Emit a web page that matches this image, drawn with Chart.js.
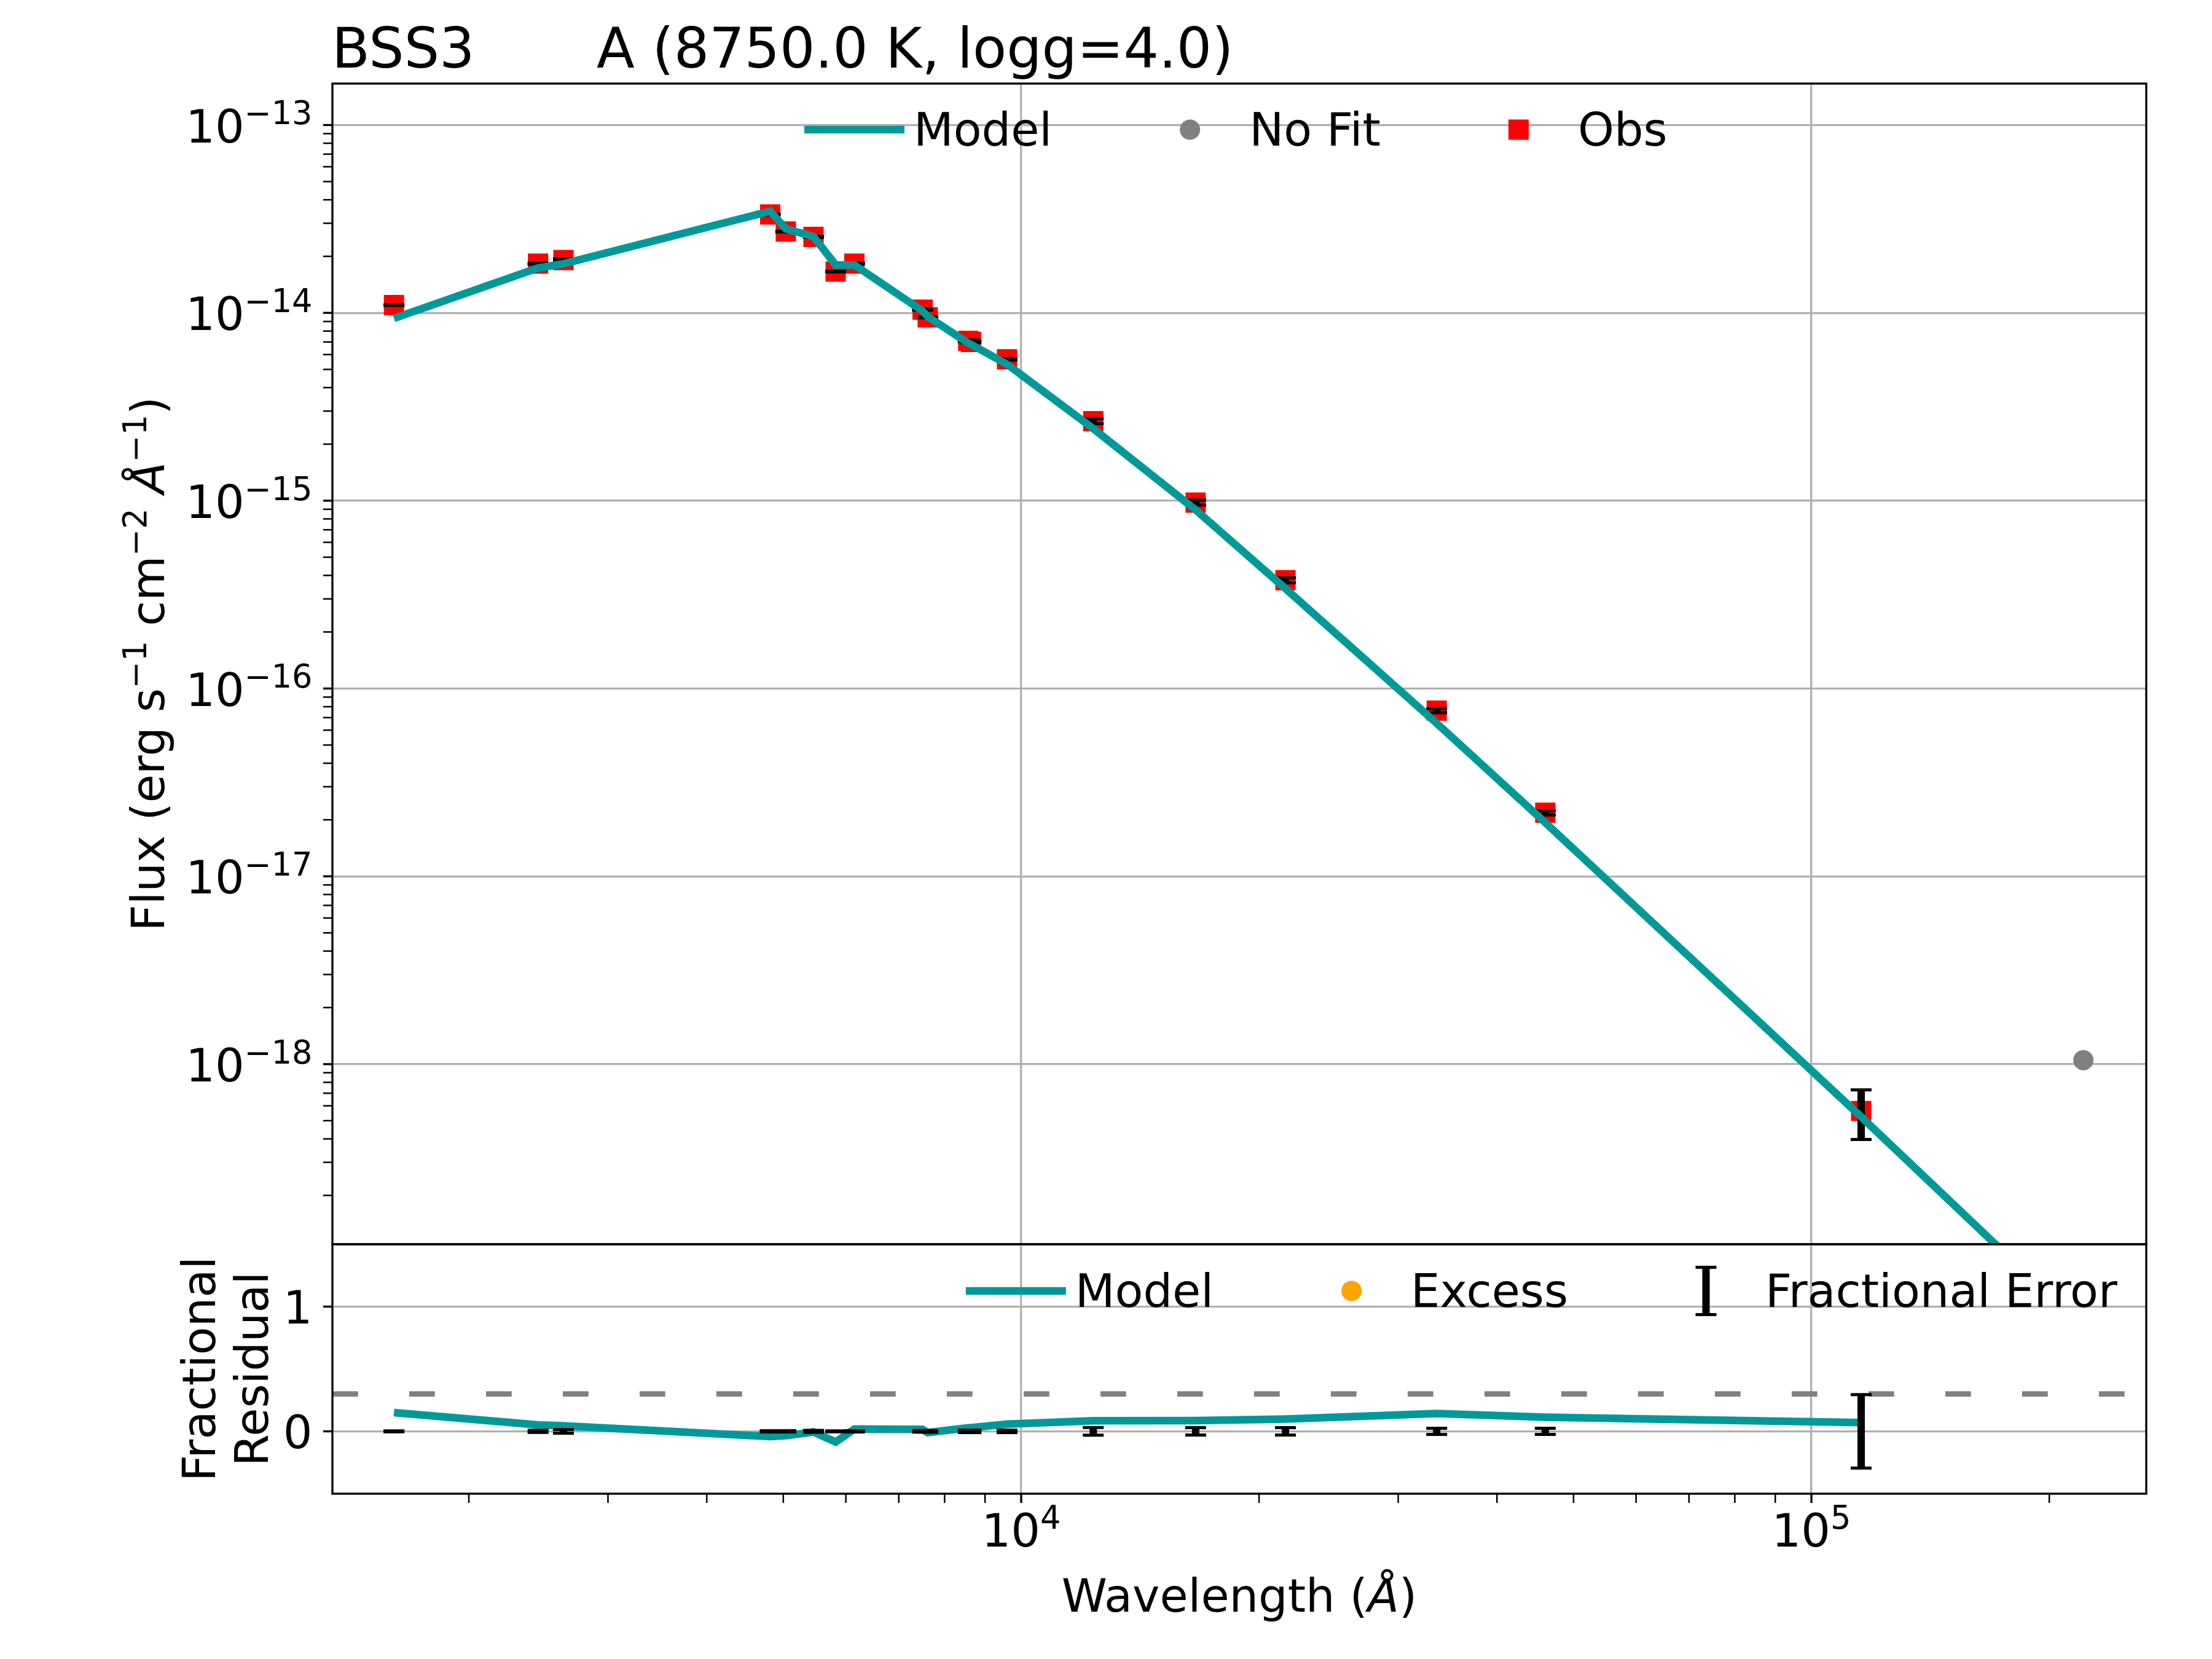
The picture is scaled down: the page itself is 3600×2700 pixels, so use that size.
<!DOCTYPE html>
<html><head><meta charset="utf-8">
<script src="https://cdn.jsdelivr.net/npm/chart.js@4"></script>
<style>
html,body{margin:0;padding:0;background:#fff;}
#wrap{position:relative;width:3600px;height:2700px;background:#fff;}
#wrap canvas{position:absolute;left:0;top:0;}
</style></head><body>
<div id="wrap"><canvas id="main" width="3600" height="2700"></canvas><canvas id="resid" width="3600" height="2700"></canvas></div>
<script>
// ---------------- data ----------------
const starName = 'BSS3';
const fitLabel = 'A (8750.0 K, logg=4.0)';
const wavelengths = [1608, 2447, 2635, 4813, 5037, 5460, 5824, 6151, 7503, 7616, 8570, 8640, 9596, 12337, 16626, 21600, 33560, 46050, 115600];
const obsFlux = [1.10e-14, 1.83e-14, 1.91e-14, 3.34e-14, 2.71e-14, 2.54e-14, 1.66e-14, 1.83e-14, 1.04e-14, 9.46e-15, 7.10e-15, 7.00e-15, 5.66e-15, 2.65e-15, 9.77e-16, 3.77e-16, 7.62e-17, 2.18e-17, 5.63e-19];
const obsErr = [4.4e-17, 1.5e-16, 2.9e-16, 1.7e-16, 1.4e-16, 2.0e-16, 6.6e-17, 9.2e-17, 6.2e-17, 5.7e-17, 7.1e-17, 7.0e-17, 5.7e-17, 8.0e-17, 2.9e-17, 1.1e-17, 1.9e-18, 5.5e-19, 1.66e-19];
const modelWavelengths = [1608, 2447, 2635, 4813, 5037, 5460, 5824, 6151, 7503, 7616, 8570, 8640, 9596, 12337, 16626, 21600, 33560, 46050, 115600, 220900];
const modelFlux = [9.35e-15, 1.735e-14, 1.826e-14, 3.48e-14, 2.80e-14, 2.55e-14, 1.80e-14, 1.80e-14, 1.023e-14, 9.55e-15, 6.90e-15, 6.79e-15, 5.33e-15, 2.42e-15, 8.93e-16, 3.40e-16, 6.53e-17, 1.93e-17, 5.24e-19, 3.95e-20];
const noFitWavelengths = [220900];
const noFitFlux = [1.05e-18];
const residual = [0.150, 0.052, 0.044, -0.042, -0.035, -0.005, -0.085, 0.018, 0.016, -0.010, 0.028, 0.030, 0.058, 0.085, 0.086, 0.098, 0.143, 0.113, 0.070];
const excessWavelengths = [];
const excessResidual = [];
const residThreshold = 0.3;

const xLimits = [1344, 265300];
const fluxLimits = [1.099e-19, 1.663e-13];
const residLimits = [-0.5, 1.5];
const xTickValues = [1e4, 1e5];
const xTickLabels = [['10', '4'], ['10', '5']];
const fluxTickValues = [1e-18, 1e-17, 1e-16, 1e-15, 1e-14, 1e-13];
const fluxTickLabels = [['10', '\u221218'], ['10', '\u221217'], ['10', '\u221216'], ['10', '\u221215'], ['10', '\u221214'], ['10', '\u221213']];
const residTickValues = [0, 1];
const residTickLabels = ['0', '1'];

// ---------------- styles ----------------
const TEAL = '#009999';
const FONT = '"DejaVu Sans", "Liberation Sans", sans-serif';
const FS = 75;           // 18 pt at 300 dpi
const TITLE_FS = 90.3;
const GRID = '#b0b0b0';
const AX_LEFT = 541, AX_RIGHT = 3493, MAIN_TOP = 136, SPLIT = 2025, RES_BOTTOM = 2431;

function font(px, italic) { return (italic ? 'italic ' : '') + px + 'px ' + FONT; }
function pts(xs, ys) { return xs.map((x, i) => ({x: x, y: ys[i]})); }
function errorSegments(xs, centers, errs) {
  const out = [];
  xs.forEach((x, i) => { out.push({x: x, y: centers[i] - errs[i]}, {x: x, y: centers[i] + errs[i]}, {x: x, y: null}); });
  return out;
}
const fracErr = obsErr.map((e, i) => e / obsFlux[i]);
const zeros = wavelengths.map(() => 0);

function drawRuns(ctx, runs, x, y, fs, align) {
  const widths = runs.map(r => { ctx.font = font(r.sup ? fs * 0.7 : fs, r.it); return ctx.measureText(r.t).width; });
  const total = widths.reduce((a, b) => a + b, 0);
  let cx = align === 'center' ? x - total / 2 : (align === 'right' ? x - total : x);
  ctx.textAlign = 'left'; ctx.textBaseline = 'alphabetic'; ctx.fillStyle = '#000';
  runs.forEach((r, i) => {
    ctx.font = font(r.sup ? fs * 0.7 : fs, r.it);
    ctx.fillText(r.t, cx, r.sup ? y - fs * 0.39 : y);
    cx += widths[i];
  });
  return total;
}
function line(ctx, x1, y1, x2, y2, w, color) {
  ctx.save(); ctx.lineWidth = w; ctx.strokeStyle = color || '#000'; ctx.lineCap = 'butt';
  ctx.beginPath(); ctx.moveTo(x1, y1); ctx.lineTo(x2, y2); ctx.stroke(); ctx.restore();
}
function logTicks(min, max) {
  const out = [];
  for (let e = Math.floor(Math.log10(min)); e <= Math.ceil(Math.log10(max)); e++) {
    for (let m = 1; m <= 9; m++) {
      const v = m * Math.pow(10, e);
      if (v >= min && v <= max) out.push({v: v, major: m === 1});
    }
  }
  return out;
}
function frame(ctx, a) {
  ctx.save(); ctx.lineWidth = 3.3; ctx.strokeStyle = '#000';
  ctx.strokeRect(a.left, a.top, a.right - a.left, a.bottom - a.top); ctx.restore();
}
const HL = 163, PAD = 15, COLSP = 143;
function drawHandle(ctx, it, x0, cy) {
  const cx = x0 + HL / 2;
  ctx.save();
  if (it.kind === 'line') {
    line(ctx, x0, cy, x0 + HL, cy, 12.5, it.color);
  } else if (it.kind === 'circle') {
    ctx.fillStyle = it.color; ctx.beginPath(); ctx.arc(cx, cy, 16.5, 0, Math.PI * 2); ctx.fill();
  } else if (it.kind === 'square') {
    ctx.fillStyle = it.color; ctx.fillRect(cx - 16.5, cy - 16.5, 33, 33);
  } else if (it.kind === 'errorbar') {
    line(ctx, cx, cy - 38.5, cx, cy + 38.5, 12, '#000');
    line(ctx, cx - 17, cy - 38.5, cx + 17, cy - 38.5, 5, '#000');
    line(ctx, cx - 17, cy + 38.5, cx + 17, cy + 38.5, 5, '#000');
  }
  ctx.restore();
}
function legendLayout(ctx, items) {
  ctx.font = font(FS);
  let x = 0; const xs = [];
  items.forEach(it => { xs.push(x); x += HL + PAD + ctx.measureText(it.label).width + COLSP; });
  return xs;
}
function drawLegend(ctx, items, x0, cy, baseline) {
  const xs = legendLayout(ctx, items);
  items.forEach((it, i) => {
    drawHandle(ctx, it, x0 + xs[i], cy);
    ctx.font = font(FS); ctx.fillStyle = '#000'; ctx.textAlign = 'left'; ctx.textBaseline = 'alphabetic';
    ctx.fillText(it.label, x0 + xs[i] + HL + PAD, baseline);
  });
}

function baseScales(yType, yLimits, yTicks) {
  return {
    x: {type: 'logarithmic', min: xLimits[0], max: xLimits[1],
        afterFit(s) { s.height = 0; },
        afterBuildTicks(s) { s.ticks = xTickValues.map(v => ({value: v})); },
        ticks: {display: false}, border: {display: false},
        grid: {color: GRID, lineWidth: 3.3, drawTicks: false}},
    y: {type: yType, min: yLimits[0], max: yLimits[1],
        afterFit(s) { s.width = 0; },
        afterBuildTicks(s) { s.ticks = yTicks.map(v => ({value: v})); },
        ticks: {display: false}, border: {display: false},
        grid: {color: GRID, lineWidth: 3.3, drawTicks: false}}
  };
}

// ---------------- main panel ----------------
const mainDecor = {
  id: 'mainDecor',
  afterDraw(chart) {
    const ctx = chart.ctx, a = chart.chartArea, ys = chart.scales.y;
    ctx.save();
    frame(ctx, a);
    logTicks(fluxLimits[0], fluxLimits[1]).forEach(t => {
      const y = ys.getPixelForValue(t.v);
      line(ctx, a.left - 15, y, a.left, y, t.major ? 3.3 : 2.5);
    });
    fluxTickValues.forEach((v, i) => {
      const y = ys.getPixelForValue(v);
      drawRuns(ctx, [{t: fluxTickLabels[i][0]}, {t: fluxTickLabels[i][1], sup: true}], a.left - 15 - 17.5, y + 28, FS, 'right');
    });
    // title
    ctx.fillStyle = '#000'; ctx.font = font(TITLE_FS); ctx.textAlign = 'left'; ctx.textBaseline = 'alphabetic';
    ctx.fillText(starName, a.left - 1, 110);
    ctx.fillText(fitLabel, 971, 110);
    // y label
    ctx.save(); ctx.translate(267, (a.top + a.bottom) / 2); ctx.rotate(-Math.PI / 2);
    drawRuns(ctx, [{t: 'Flux (erg s'}, {t: '\u22121', sup: true}, {t: ' cm'}, {t: '\u22122', sup: true}, {t: ' '}, {t: '\u00c5', it: true}, {t: '\u22121', sup: true}, {t: ')'}], 0, 0, FS, 'center');
    ctx.restore();
    // legend
    drawLegend(ctx, [
      {label: chart.data.datasets[0].label, kind: 'line', color: TEAL},
      {label: chart.data.datasets[3].label, kind: 'circle', color: '#808080'},
      {label: chart.data.datasets[2].label, kind: 'square', color: '#ff0000'}
    ], 1309, 211, 237);
    ctx.restore();
  }
};

new Chart(document.getElementById('main'), {
  type: 'scatter',
  data: {datasets: [
    {label: 'Model', type: 'line', data: pts(modelWavelengths, modelFlux), borderColor: TEAL, borderWidth: 12.5,
     borderJoinStyle: 'miter', pointRadius: 0, fill: false, tension: 0, clip: 0, order: 0},
    {label: 'Obs error', type: 'line', data: errorSegments(wavelengths, obsFlux, obsErr), borderColor: '#000', borderWidth: 12,
     pointStyle: 'line', pointRadius: 17, pointBorderWidth: 5, pointBorderColor: '#000', pointBackgroundColor: '#000',
     spanGaps: false, fill: false, clip: 0, order: 1},
    {label: 'Obs', data: pts(wavelengths, obsFlux), pointStyle: 'rect', pointRadius: 23.33, backgroundColor: '#ff0000',
     borderWidth: 0, pointBorderWidth: 0, order: 2},
    {label: 'No Fit', data: pts(noFitWavelengths, noFitFlux), pointStyle: 'circle', pointRadius: 16.5, backgroundColor: '#808080',
     borderWidth: 0, pointBorderWidth: 0, order: 3}
  ]},
  options: {
    responsive: false, animation: false, devicePixelRatio: 1, events: [],
    layout: {padding: {left: AX_LEFT, right: 3600 - AX_RIGHT, top: MAIN_TOP, bottom: 2700 - SPLIT}},
    plugins: {legend: {display: false}, tooltip: {enabled: false}, title: {display: false}},
    scales: baseScales('logarithmic', fluxLimits, fluxTickValues)
  },
  plugins: [mainDecor]
});

// ---------------- residual panel ----------------
const residDecor = {
  id: 'residDecor',
  afterDraw(chart) {
    const ctx = chart.ctx, a = chart.chartArea, xs = chart.scales.x, ys = chart.scales.y;
    ctx.save();
    frame(ctx, a);
    logTicks(xLimits[0], xLimits[1]).forEach(t => {
      const x = xs.getPixelForValue(t.v);
      line(ctx, x, a.bottom, x, a.bottom + 15, t.major ? 3.3 : 2.5);
    });
    xTickValues.forEach((v, i) => {
      const x = xs.getPixelForValue(v);
      drawRuns(ctx, [{t: xTickLabels[i][0]}, {t: xTickLabels[i][1], sup: true}], x, 2517, FS, 'center');
    });
    residTickValues.forEach((v, i) => {
      const y = ys.getPixelForValue(v);
      line(ctx, a.left - 15, y, a.left, y, 3.3);
      drawRuns(ctx, [{t: residTickLabels[i]}], a.left - 15 - 17.5, y + 27.5, FS, 'right');
    });
    // x label
    drawRuns(ctx, [{t: 'Wavelength ('}, {t: '\u00c5', it: true}, {t: ')'}], (a.left + a.right) / 2, 2623, FS, 'center');
    // y label (two lines)
    const cy = (a.top + a.bottom) / 2;
    [['Fractional', 350], ['Residual', 436]].forEach(([t, bx]) => {
      ctx.save(); ctx.translate(bx, cy); ctx.rotate(-Math.PI / 2);
      ctx.font = font(FS); ctx.fillStyle = '#000'; ctx.textAlign = 'center'; ctx.textBaseline = 'alphabetic';
      ctx.fillText(t, 0, 0); ctx.restore();
    });
    // legend anchored so the last entry's text starts at x = 2873
    const items = [
      {label: chart.data.datasets[1].label, kind: 'line', color: TEAL},
      {label: chart.data.datasets[3].label, kind: 'circle', color: '#ffa500'},
      {label: 'Fractional Error', kind: 'errorbar'}
    ];
    const lx = legendLayout(ctx, items);
    const start = 2873 - PAD - HL - lx[lx.length - 1];
    drawLegend(ctx, items, start, 2101, 2127);
    ctx.restore();
  }
};

new Chart(document.getElementById('resid'), {
  type: 'scatter',
  data: {datasets: [
    {label: 'Threshold', type: 'line', data: pts(xLimits, [residThreshold, residThreshold]), borderColor: '#808080', borderWidth: 8.7,
     borderDash: [41.7, 83.3], pointRadius: 0, fill: false, clip: 0, order: 2},
    {label: 'Model', type: 'line', data: pts(wavelengths, residual), borderColor: TEAL, borderWidth: 12.5,
     borderJoinStyle: 'miter', pointRadius: 0, fill: false, tension: 0, clip: 0, order: 1},
    {label: 'Fractional Error', type: 'line', data: errorSegments(wavelengths, zeros, fracErr), borderColor: '#000', borderWidth: 12,
     pointStyle: 'line', pointRadius: 17, pointBorderWidth: 5, pointBorderColor: '#000', pointBackgroundColor: '#000',
     spanGaps: false, fill: false, clip: 0, order: 0},
    {label: 'Excess', data: pts(excessWavelengths, excessResidual), pointStyle: 'circle', pointRadius: 16.5, backgroundColor: '#ffa500',
     borderWidth: 0, order: 3}
  ]},
  options: {
    responsive: false, animation: false, devicePixelRatio: 1, events: [],
    layout: {padding: {left: AX_LEFT, right: 3600 - AX_RIGHT, top: SPLIT, bottom: 2700 - RES_BOTTOM}},
    plugins: {legend: {display: false}, tooltip: {enabled: false}, title: {display: false}},
    scales: baseScales('linear', residLimits, residTickValues)
  },
  plugins: [residDecor]
});
</script>
</body></html>
